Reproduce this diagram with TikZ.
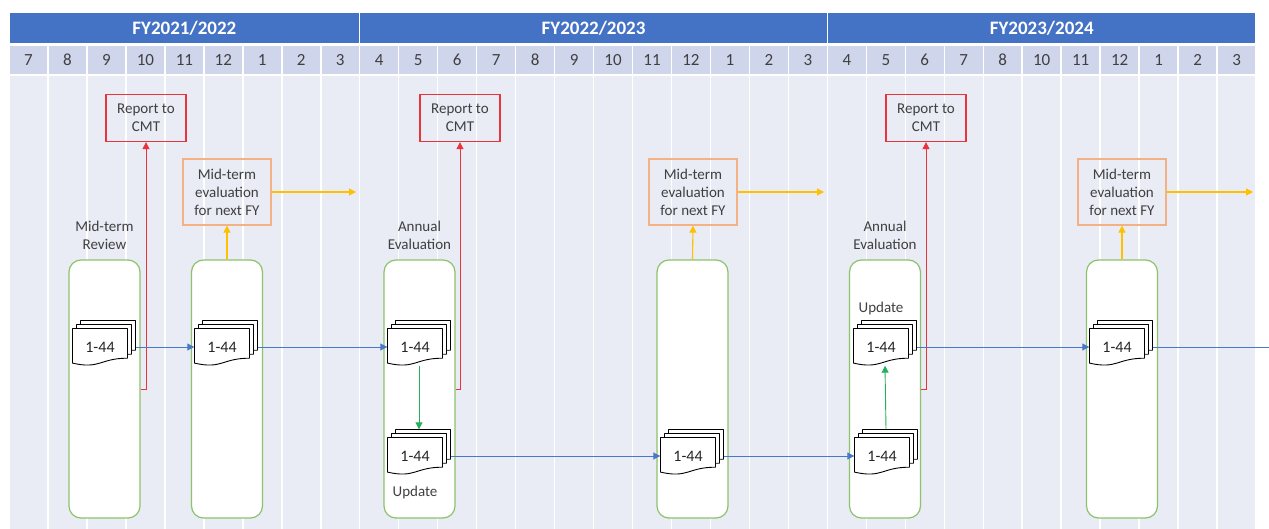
\documentclass[tikz,border=0pt]{standalone}
\usepackage{fontspec}
\setmainfont{Carlito}
\usetikzlibrary{positioning,arrows.meta}

\definecolor{fyblue}{HTML}{4472C4}
\definecolor{monthbg}{HTML}{CFD5EA}
\definecolor{bodybg}{HTML}{E9EBF5}
\definecolor{boxgreen}{HTML}{8DC26B}
\definecolor{cmtred}{HTML}{E8343B}
\definecolor{evalorange}{HTML}{F4B183}
\definecolor{arrowgold}{HTML}{FFC000}
\definecolor{linkblue}{HTML}{4A78C8}
\definecolor{updgreen}{HTML}{21B15A}
\definecolor{txtgray}{HTML}{404040}

\def\colw{38.97}

% stack of three pages, front page carries the node
\newcommand{\docstack}[2]{%
    \begin{scope}[shift={(#2)}]
        \foreach \o in {8,4,0}
            \draw[docpage] (-27.5+\o,-18.5-\o) -- (27.5+\o,-18.5-\o) -- (27.5+\o,11.2-\o)
                .. controls (\o,11.2-\o) and (\o,22.5-\o) .. (-27.5+\o,16.1-\o) -- cycle;
    \end{scope}
    \node[doc] (#1) at (#2) {1-44};
}

\begin{document}
\begin{tikzpicture}[x=1pt,y=-1pt,font=\fontsize{15}{18}\selectfont]
    \tikzset{
        fycell/.style={
            draw=white,
            line width=1.5pt,
            fill=fyblue,
            text=white,
            minimum height=32pt,
            font=\fontsize{19}{22}\selectfont\bfseries
        },
        monthcell/.style={
            draw=white,
            line width=1.5pt,
            fill=monthbg,
            text=txtgray,
            minimum width=38.97pt,
            minimum height=30pt,
            font=\fontsize{17}{20}\selectfont
        },
        stage/.style={
            draw=boxgreen,
            line width=1.2pt,
            fill=white,
            rounded corners=12pt,
            minimum width=71pt,
            minimum height=258pt
        },
        cmt/.style={draw=cmtred,line width=1.3pt,minimum width=80pt,minimum height=47pt,align=center,text=txtgray},
        evalbox/.style={draw=evalorange,line width=1.2pt,minimum width=88pt,minimum height=66pt,align=center,text=txtgray},
        note/.style={align=center,text=txtgray,inner sep=1pt},
        docpage/.style={draw=black,fill=white,line width=0.9pt,line join=round},
        doc/.style={minimum width=55pt,minimum height=37pt,inner sep=0pt,text=black!85,font=\fontsize{16}{19}\selectfont},
        redline/.style={draw=cmtred,line width=1pt,-{Triangle[length=7pt,width=7pt]}},
        goldline/.style={draw=arrowgold,line width=1.1pt,-{Triangle[length=7pt,width=7pt]}},
        bluelink/.style={draw=linkblue,line width=0.9pt,-{Triangle[length=7pt,width=7pt]}},
        blueline/.style={draw=linkblue,line width=0.9pt},
        greenlink/.style={draw=updgreen,line width=0.9pt,-{Triangle[length=7pt,width=7pt]}}
    }
    \useasboundingbox (0,0) rectangle (1269,529);

    % calendar grid
    \node[fycell,minimum width=350.73pt] (fyA) at (184.37,28) {FY2021/2022};
    \node[fycell,minimum width=467.64pt] (fyB) at (593.55,28) {FY2022/2023};
    \node[fycell,minimum width=428.67pt] (fyC) at (1041.70,28) {FY2023/2024};
    \foreach \i in {0,...,31}
        \filldraw[fill=bodybg,draw=white,line width=1.5pt]
            ({9+\colw*\i},75) rectangle ({9+\colw*(\i+1)},540);
    \foreach \m [count=\i from 0] in {7,8,9,10,11,12,1,2,3,4,5,6,7,8,9,10,11,12,1,2,3,4,5,6,7,8,10,11,12,1,2,3}
        \node[monthcell] (month\i) at ({9+\colw*(\i+0.5)},60) {\m};

    % stages
    \node[stage] (review) at (104.5,389) {};
    \node[stage] (midA) at (227,389) {};
    \node[stage] (annualA) at (419.5,389) {};
    \node[stage] (midB) at (692.5,389) {};
    \node[stage] (annualB) at (885,389) {};
    \node[stage] (midC) at (1122,389) {};

    \node[note,above=9pt of review] (reviewlbl) {Mid-term\\Review};
    \node[note,above=9pt of annualA] (annualAlbl) {Annual\\Evaluation};
    \node[note,above=9pt of annualB] (annualBlbl) {Annual\\Evaluation};

    % reports and evaluations
    \node[cmt] (cmtA) at (146,118) {Report to\\CMT};
    \node[cmt] (cmtB) at (460,118) {Report to\\CMT};
    \node[cmt] (cmtC) at (926,118) {Report to\\CMT};
    \node[evalbox] (evalA) at (227,192) {Mid-term\\evaluation\\for next FY};
    \node[evalbox] (evalB) at (693,192) {Mid-term\\evaluation\\for next FY};
    \node[evalbox] (evalC) at (1122,192) {Mid-term\\evaluation\\for next FY};
    \coordinate (fyendA) at (356,192);
    \coordinate (fyendB) at (824,192);
    \coordinate (fyendC) at (1253,192);

    \draw[redline] (review.east) -| (cmtA.south);
    \draw[redline] (annualA.east) -| (cmtB.south);
    \draw[redline] (annualB.east) -| (cmtC.south);
    \draw[goldline] (midA.north) -- (evalA.south);
    \draw[goldline] (midB.north) -- (evalB.south);
    \draw[goldline] (midC.north) -- (evalC.south);
    \draw[goldline] (evalA.east) -- (fyendA);
    \draw[goldline] (evalB.east) -- (fyendB);
    \draw[goldline] (evalC.east) -- (fyendC);

    % documents
    \docstack{d1}{100,347}
    \docstack{d2}{222,347}
    \docstack{d3}{415,347}
    \docstack{d4}{415,456}
    \docstack{d5}{688,456}
    \docstack{d6}{881,347}
    \docstack{d7}{882,456}
    \docstack{d8}{1117,347}
    \coordinate (edge) at (1269,347);

    \node[note,below=10pt of d4] (updA) {Update};
    \node[note,above=12pt of d6] (updB) {Update};

    \draw[bluelink] ([xshift=8pt]d1.east) -- (d2.west);
    \draw[bluelink] ([xshift=8pt]d2.east) -- (d3.west);
    \draw[bluelink] ([xshift=8pt]d4.east) -- (d5.west);
    \draw[bluelink] ([xshift=8pt]d5.east) -- (d7.west);
    \draw[bluelink] ([xshift=8pt]d6.east) -- (d8.west);
    \draw[blueline] ([xshift=8pt]d8.east) -- (edge);
    \draw[greenlink] ([xshift=4pt]d3.south) -- ([shift={(4pt,8pt)}]d4.north);
    \draw[greenlink] ([shift={(4pt,8pt)}]d7.north) -- ([xshift=4pt]d6.south);
\end{tikzpicture}
\end{document}
